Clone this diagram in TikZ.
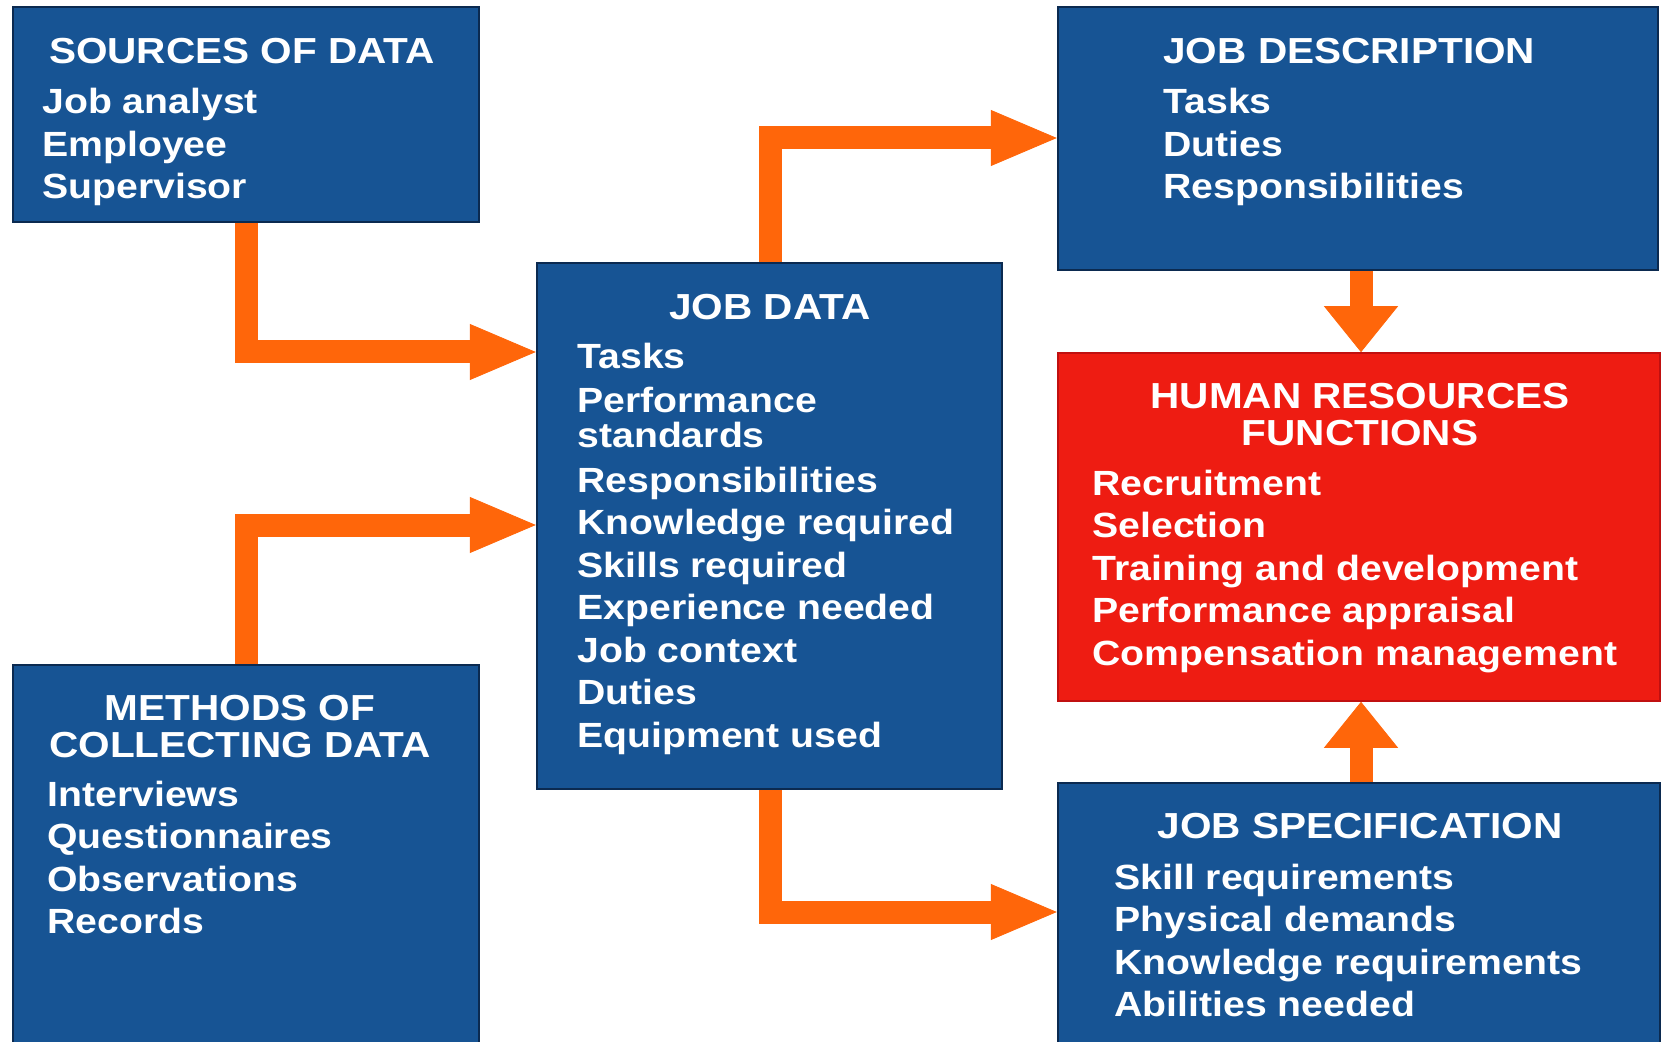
\documentclass[tikz,border=0pt]{standalone}
\usepackage{fontspec}
\setmainfont{Liberation Sans}[FakeStretch=1.12]
\usetikzlibrary{arrows.meta,fit}
\definecolor{boxblue}{HTML}{175494}
\definecolor{boxedge}{HTML}{0B2A50}
\definecolor{hrred}{HTML}{EE1C12}
\definecolor{hredge}{HTML}{C01010}
\definecolor{arrorange}{HTML}{FF660A}
\begin{document}
\begin{tikzpicture}[x=0.5pt,y=-0.5pt,
  bluebox/.style={draw=boxedge, line width=1.2pt, fill=boxblue, inner sep=0pt},
  redbox/.style={draw=hredge, line width=0.8pt, fill=hrred, inner sep=0pt},
  hd/.style={text=white, font=\bfseries\fontsize{18.1}{21}\selectfont, anchor=base, inner sep=0pt},
  hdl/.style={hd, anchor=base west},
  it/.style={text=white, font=\bfseries\fontsize{17.5}{21}\selectfont, anchor=base west, inner sep=0pt},
  arr/.style={draw=arrorange, line width=11.5pt, line join=miter,
    -{Triangle[length=33pt,width=28pt,line width=0.4pt]}},
  varr/.style={draw=arrorange, line width=11.5pt,
    -{Triangle[length=23pt,width=37pt,line width=0.4pt]}}]
\useasboundingbox (0,0) rectangle (1663,1042);
\clip (0,0) rectangle (1663,1042);
\fill[white] (0,0) rectangle (1663,1042);
% boxes
\node[bluebox, fit={(13,7) (479,222)}] (src) {};
\node[bluebox, fit={(1058,7) (1658,270)}] (jd) {};
\node[bluebox, fit={(537,263) (1002,789)}] (data) {};
\node[redbox, fit={(1058,353) (1660,701)}] (hr) {};
\node[bluebox, fit={(13,665) (479,1060)}] (meth) {};
\node[bluebox, fit={(1058,783) (1660,1060)}] (spec) {};
% texts: sources
\node[hd] (srch) at (242,64) {SOURCES OF DATA};
\foreach \t [count=\i] in {Job analyst, Employee, Supervisor}
  \node[it] (srci\i) at (42,{114+(\i-1)*42.5}) {\t};
% job description
\node[hdl] (jdh) at (1163,64) {JOB DESCRIPTION};
\foreach \t [count=\i] in {Tasks, Duties, Responsibilities}
  \node[it] (jdi\i) at (1163,{114+(\i-1)*42.5}) {\t};
% job data
\node[hd] (datah) at (770,320) {JOB DATA};
\node[it] (dati1) at (577,369) {Tasks};
\node[it] (dati2) at (577,413) {Performance};
\node[it] (dati3) at (577,448) {standards};
\foreach \t [count=\i] in {Responsibilities, Knowledge required, Skills required, Experience needed, Job context, Duties, Equipment used}
  \node[it] (datj\i) at (577,{492+(\i-1)*42.5}) {\t};
% HR functions
\node[hd] (hrh1) at (1360,409) {HUMAN RESOURCES};
\node[hd] (hrh2) at (1360,445) {FUNCTIONS};
\foreach \t [count=\i] in {Recruitment, Selection, Training and development, Performance appraisal, Compensation management}
  \node[it] (hri\i) at (1092,{495+(\i-1)*42.5}) {\t};
% methods
\node[hd] (meth1) at (240,720) {METHODS OF};
\node[hd] (meth2) at (240,757) {COLLECTING DATA};
\foreach \t [count=\i] in {Interviews, Questionnaires, Observations, Records}
  \node[it] (methi\i) at (47,{806+(\i-1)*42.5}) {\t};
% job specification
\node[hd] (spech) at (1360,838) {JOB SPECIFICATION};
\foreach \t [count=\i] in {Skill requirements, Physical demands, Knowledge requirements, Abilities needed}
  \node[it] (speci\i) at (1114,{889+(\i-1)*42.5}) {\t};
% connectors
\coordinate (k1) at (246,352);
\coordinate (k2) at (246,525);
\coordinate (k3) at (770,138);
\coordinate (k4) at (770,912);
\coordinate (k5) at (1361,0);
\draw[arr] (src.south -| k1) |- (data.west |- k1);
\draw[arr] (meth.north -| k2) |- (data.west |- k2);
\draw[arr] (data.north -| k3) |- (jd.west |- k3);
\draw[arr] (data.south -| k4) |- (spec.west |- k4);
\draw[varr] (jd.south -| k5) -- (hr.north -| k5);
\draw[varr] (spec.north -| k5) -- (hr.south -| k5);
\end{tikzpicture}
\end{document}
